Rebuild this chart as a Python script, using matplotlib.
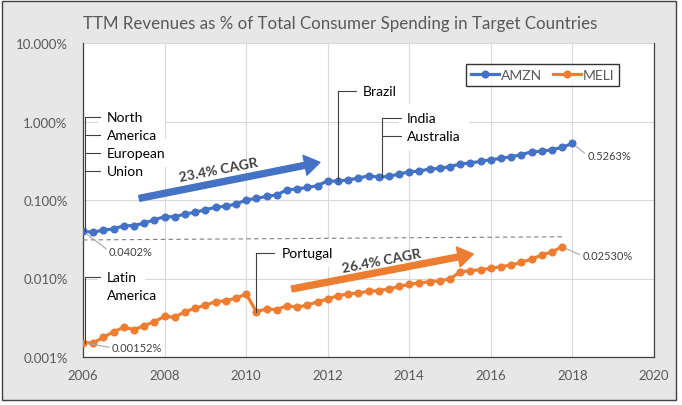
import matplotlib.pyplot as plt
import matplotlib.transforms as mtransforms
from matplotlib.patches import Rectangle
from matplotlib.ticker import FuncFormatter, NullLocator

plt.rcParams['font.family'] = ['Lato', 'DejaVu Sans']

# TTM revenue as % of consumer spending, quarterly from 2006
amzn = [0.0402, 0.0388, 0.0415, 0.0427, 0.0471, 0.0471, 0.0509, 0.0561,
        0.0612, 0.0612, 0.0664, 0.0697, 0.0752, 0.0807, 0.0832, 0.0889,
        0.100, 0.105, 0.111, 0.116, 0.135, 0.138, 0.145, 0.152,
        0.176, 0.173, 0.181, 0.189, 0.204, 0.195, 0.200, 0.214,
        0.229, 0.234, 0.248, 0.253, 0.266, 0.288, 0.296, 0.311,
        0.326, 0.340, 0.356, 0.378, 0.412, 0.417, 0.438, 0.469, 0.5263]
meli = [0.00152, 0.00151, 0.00178, 0.00210, 0.00239, 0.00223, 0.00251, 0.00282,
        0.00330, 0.00321, 0.00378, 0.00417, 0.00459, 0.00506, 0.00521, 0.00560,
        0.00635, 0.00378, 0.00409, 0.00401, 0.00451, 0.00430, 0.00459, 0.00506,
        0.00548, 0.00604, 0.00635, 0.00653, 0.00687, 0.00700, 0.00735, 0.00791,
        0.00844, 0.00877, 0.00910, 0.00937, 0.00986, 0.01222, 0.01257, 0.01294,
        0.01349, 0.01413, 0.01486, 0.01607, 0.01771, 0.01991, 0.02193, 0.02530]
amzn_t = [2006 + q / 4 for q in range(len(amzn))]
meli_t = [2006 + q / 4 for q in range(len(meli))]

divider_t = [2006, 2017.75]
divider_v = [0.031, 0.034]

x_ticks = [2006, 2008, 2010, 2012, 2014, 2016, 2018, 2020]
y_ticks = [0.001, 0.01, 0.1, 1, 10]

BLUE = '#4472C4'
ORANGE = '#ED7D31'
GREY = '#595959'
DARK = '#404040'

fig = plt.figure(figsize=(6.82, 4.06), dpi=100)
fig.patch.set_facecolor('white')
fig.patches.append(Rectangle((2 / 682, 5 / 406), 674 / 682, 399 / 406,
                             transform=fig.transFigure, facecolor='#e7e7e7',
                             edgecolor=DARK, lw=1, zorder=-10))

ax = fig.add_axes([83 / 682, 1 - 358 / 406, 571 / 682, 314 / 406])
ax.set_facecolor('white')
ax.set_yscale('log')
ax.set_xlim(2006, 2020)
ax.set_ylim(0.001, 10)
ax.set_xticks(x_ticks)
ax.set_yticks(y_ticks)
ax.yaxis.set_minor_locator(NullLocator())
ax.yaxis.set_major_formatter(FuncFormatter(lambda v, _: f'{v:.3f}%'))
ax.tick_params(length=0, labelsize=9.5, labelcolor=GREY)
ax.tick_params(axis='x', pad=9)
ax.tick_params(axis='y', pad=11)
ax.grid(True, color='#d9d9d9', lw=0.8)
ax.set_axisbelow(True)
for side in ['left', 'bottom', 'right']:
    ax.spines[side].set_color(DARK)
    ax.spines[side].set_linewidth(0.9)
ax.spines['top'].set_visible(False)

ax.plot(amzn_t, amzn, color=BLUE, lw=2.3, marker='o', ms=4.8, label='AMZN', zorder=4)
ax.plot(meli_t, meli, color=ORANGE, lw=2.3, marker='o', ms=4.8, label='MELI', zorder=4)
ax.plot(divider_t, divider_v, color='#7f7f7f', lw=0.8, ls=(0, (4, 3)), zorder=3)

leg = ax.legend(loc='upper right', bbox_to_anchor=(0.951, 0.955), ncol=2,
                fancybox=False, edgecolor='black', fontsize=10,
                handlelength=2.0, handletextpad=0.15, columnspacing=0.8,
                borderpad=0.35, labelcolor=GREY)
leg.get_frame().set_linewidth(1)


def callout(t, v, top_v, lines, ticks, dx_tick, dx_text, step=18, shift=0.0):
    x = t + shift
    ax.plot([x, x], [v, top_v], color=DARK, lw=0.8, zorder=5)
    for k, s in enumerate(lines):
        tr = mtransforms.offset_copy(ax.transData, fig=fig, x=0, y=-k * step, units='dots')
        if k < ticks:
            ax.plot([x, x + dx_tick], [top_v, top_v], color=DARK, lw=0.8,
                    transform=tr, zorder=6)
        # white box behind the label (hides gridlines), text drawn on top
        ax.text(x + dx_text, top_v, s, transform=tr, ha='left', va='center',
                fontsize=10, color='none', zorder=2.5,
                bbox=dict(fc='white', ec='none', pad=6))
        ax.text(x + dx_text, top_v, s, transform=tr, ha='left', va='center',
                fontsize=10, color='black', zorder=6)


callout(amzn_t[0], amzn[0], 1.14, ['North', 'America', 'European', 'Union'], 4, 0.35, 0.52, shift=0.06)
callout(meli_t[0], meli[0], 0.01045, ['Latin', 'America'], 1, 0.35, 0.52, step=18.5, shift=0.06)
callout(amzn_t[25], amzn[25], 2.43, ['Brazil'], 1, 0.44, 0.62)
callout(amzn_t[29], amzn[29], 1.10, ['India', 'Australia'], 2, 0.46, 0.61, shift=0.09)
callout(meli_t[17], meli[17], 0.0211, ['Portugal'], 1, 0.43, 0.63)


def value_label(t, v, text, dx, dy):
    ax.annotate(text, xy=(t, v), xytext=(dx, dy), textcoords='offset pixels',
                ha='left', va='center', fontsize=8, color=DARK, zorder=6,
                arrowprops=dict(arrowstyle='-', color='#a6a6a6', lw=0.8,
                                shrinkA=0, shrinkB=3, relpos=(0, 0.5)))


value_label(amzn_t[0], amzn[0], '0.0402%', 26, -20)
value_label(meli_t[0], meli[0], '0.00152%', 29, -5)
value_label(amzn_t[-1], amzn[-1], '0.5263%', 15, -12)
value_label(meli_t[-1], meli[-1], '0.02530%', 20, -9)

# CAGR arrows
arrow_style = 'simple,head_width=1.45,head_length=1.1,tail_width=0.43'
ax.annotate('', xy=(2011.81, 0.302), xytext=(2007.38, 0.105),
            arrowprops=dict(arrowstyle=arrow_style, color=BLUE, mutation_scale=10,
                            shrinkA=0, shrinkB=0), zorder=5)
ax.annotate('', xy=(2015.57, 0.0205), xytext=(2011.12, 0.00735),
            arrowprops=dict(arrowstyle=arrow_style, color=ORANGE, mutation_scale=10,
                            shrinkA=0, shrinkB=0), zorder=5)
ax.text(2009.32, 0.248, '23.4% CAGR', rotation=11, rotation_mode='anchor',
        ha='center', va='center', fontsize=10, fontweight='bold', color=DARK)
ax.text(2013.33, 0.0172, '26.4% CAGR', rotation=11, rotation_mode='anchor',
        ha='center', va='center', fontsize=10, fontweight='bold', color=DARK)

fig.text(340 / 682, 1 - 24 / 406,
         'TTM Revenues as % of Total Consumer Spending in Target Countries',
         ha='center', va='center', fontsize=12.2, color=GREY)

fig.savefig('out.png', dpi=100)
